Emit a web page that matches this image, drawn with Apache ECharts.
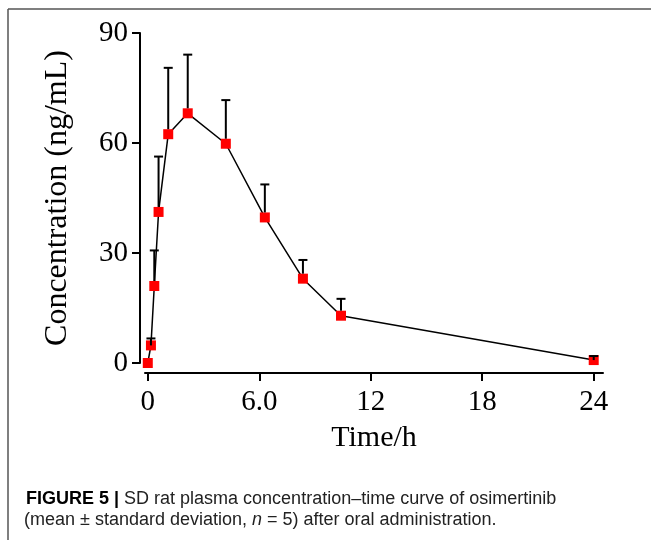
<!DOCTYPE html>
<html><head><meta charset="utf-8">
<script src="https://cdn.jsdelivr.net/npm/echarts@6/dist/echarts.min.js"></script>
<style>html,body{margin:0;padding:0;background:#fff}#c{width:651px;height:540px}</style>
</head><body><div id="c"></div>
<script>
// Data
const times = [0, 0.17, 0.35, 0.58, 1.1, 2.15, 4.2, 6.3, 8.35, 10.4, 24];
const means = [0, 4.8, 21, 41.2, 62.4, 68.1, 59.8, 39.7, 23, 12.9, 0.8];
const sds   = [0, 1.9, 9.7, 15.1, 18.1, 16.0, 11.9, 9.0, 5.1, 4.6, 1.1];
const xTicks = [0, 6, 12, 18, 24];
const xTickLabels = ['0', '6.0', '12', '18', '24'];
const yTicks = [0, 30, 60, 90];
const yTickLabels = ['0', '30', '60', '90'];
const xTitle = 'Time/h';
const yTitle = 'Concentration (ng/mL)';
const caption1 = '{b|FIGURE 5 |} SD rat plasma concentration\u2013time curve of osimertinib';
const caption2 = '(mean \u00b1 standard deviation, {i|n} = 5) after oral administration.';

const serif = 'Liberation Serif';
const chart = echarts.init(document.getElementById('c'), null, {renderer: 'canvas'});

const option = {
  animation: false,
  backgroundColor: '#fff',
  grid: {left: 145, top: 33, width: 458, height: 330},
  xAxis: {
    type: 'value', min: -0.15, max: 24.5, offset: 10,
    name: xTitle, nameLocation: 'middle', nameGap: 50,
    nameTextStyle: {fontFamily: serif, fontSize: 30, color: '#000'},
    axisLine: {show: true, onZero: false, lineStyle: {color: '#000', width: 2}},
    axisTick: {show: true, length: 8, lineStyle: {color: '#000', width: 2}, customValues: xTicks},
    axisLabel: {fontFamily: serif, fontSize: 29, color: '#000', margin: 15, customValues: xTicks,
      formatter: v => { const i = xTicks.indexOf(v); return i >= 0 ? xTickLabels[i] : ''; }},
    splitLine: {show: false}
  },
  yAxis: {
    type: 'value', min: 0, max: 90, interval: 30, offset: 5,
    name: yTitle, nameLocation: 'middle', nameGap: 66, nameRotate: 90,
    nameTextStyle: {fontFamily: serif, fontSize: 32, color: '#000'},
    axisLine: {show: true, onZero: false, lineStyle: {color: '#000', width: 2}},
    axisTick: {show: true, length: 8, lineStyle: {color: '#000', width: 2}},
    axisLabel: {fontFamily: serif, fontSize: 29, color: '#000', margin: 12,
      formatter: v => { const i = yTicks.indexOf(v); return i >= 0 ? yTickLabels[i] : ''; }},
    splitLine: {show: false}
  },
  series: [
    {
      type: 'line', z: 2, clip: false,
      data: times.map((t, i) => [t, means[i]]),
      symbol: 'rect', symbolSize: 10,
      itemStyle: {color: '#ff0000'},
      lineStyle: {color: '#000', width: 1.5}
    },
    {
      type: 'custom', z: 3, clip: false,
      data: times.map((t, i) => [t, means[i], sds[i]]),
      encode: {x: 0, y: 1},
      renderItem: function (params, api) {
        const x = api.value(0), m = api.value(1), s = api.value(2);
        if (!s) return null;
        const p0 = api.coord([x, m]);
        const p1 = api.coord([x, m + s]);
        const startY = (p0[1] - p1[1] > 8) ? p0[1] - 5 : p0[1];
        const st = {stroke: '#000', lineWidth: 2};
        return {type: 'group', children: [
          {type: 'line', shape: {x1: p0[0], y1: startY, x2: p1[0], y2: p1[1]}, style: st},
          {type: 'line', shape: {x1: p1[0] - 4.5, y1: p1[1], x2: p1[0] + 4.5, y2: p1[1]}, style: st}
        ]};
      }
    }
  ],
  graphic: [
    {type: 'line', shape: {x1: 8, y1: 9, x2: 651, y2: 9}, style: {stroke: '#555', lineWidth: 1.5}},
    {type: 'line', shape: {x1: 8, y1: 9, x2: 8, y2: 540}, style: {stroke: '#555', lineWidth: 1.5}},
    {type: 'text', left: 26, top: 490, style: {text: caption1, fontFamily: 'Liberation Sans', fontSize: 18, fill: '#222',
      rich: {b: {fontWeight: 'bold', fontFamily: 'Liberation Sans', fontSize: 18, fill: '#000'}}}},
    {type: 'text', left: 24, top: 511, style: {text: caption2, fontFamily: 'Liberation Sans', fontSize: 18, fill: '#222',
      rich: {i: {fontStyle: 'italic', fontFamily: 'Liberation Sans', fontSize: 18, fill: '#222'}}}}
  ]
};
chart.setOption(option);
</script>
</body></html>
